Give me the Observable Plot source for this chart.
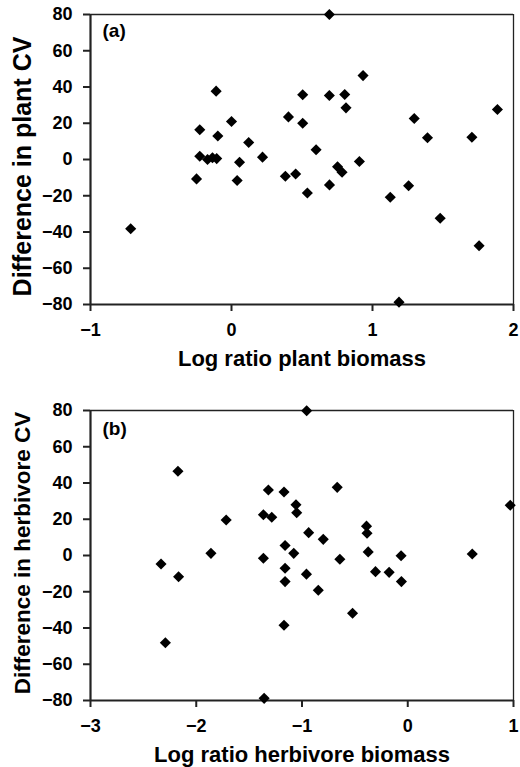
<!DOCTYPE html>
<html><head><meta charset="utf-8">
<script src="https://cdn.jsdelivr.net/npm/d3@7"></script>
<script src="https://cdn.jsdelivr.net/npm/@observablehq/plot@0.6"></script>
<style>
body{margin:0;background:#fff;}
#chart svg{display:block;}
</style></head><body><div id="chart"></div>
<script>
// Panel (a): plant
const plantLogRatio = [-0.715,-0.225,-0.109,0.0,-0.097,0.122,0.22,-0.225,-0.17,-0.135,-0.105,-0.248,0.057,0.04,0.694,0.933,0.505,0.694,0.803,0.812,0.404,0.505,1.296,1.39,1.705,1.886,0.6,0.382,0.455,0.752,0.784,0.907,0.695,0.538,1.126,1.256,1.48,1.756,1.188];
const plantCVDiff   = [-38.2,16.4,37.7,21,13,9.4,1.3,1.8,0,1,0.5,-10.7,-1.5,-11.6,80,46.3,35.7,35.3,35.9,28.5,23.5,20,22.6,12,12.3,27.6,5.4,-9.2,-8,-4,-7,-1.1,-14,-18.5,-20.8,-14.5,-32.4,-47.6,-78.7];
// Panel (b): herbivore
const herbLogRatio = [-2.173,-1.717,-1.861,-2.333,-2.167,-2.292,-0.956,-1.318,-1.17,-0.667,-1.057,-1.05,-1.365,-1.286,-0.937,-0.799,-0.39,-0.385,-1.16,-1.078,-1.365,-0.642,-0.374,-0.063,0.61,0.969,-1.16,-0.958,-0.305,-0.176,-0.06,-1.16,-0.846,-0.522,-1.17,-1.358];
const herbCVDiff   = [46.5,19.6,1.2,-4.7,-11.7,-48.1,79.9,36.1,35,37.6,28,23.6,22.5,21.1,12.6,8.9,16.2,12.3,5.5,1.2,-1.5,-2.1,2,-0.1,0.8,27.7,-7,-10.3,-8.9,-9.3,-14.4,-14.4,-19.2,-31.9,-38.5,-78.8];

const yTicks = [-80,-60,-40,-20,0,20,40,60,80];
const xTicksA = [-1,0,1,2];
const xTicksB = [-3,-2,-1,0,1];
const yDomain = [-80,80];
const xDomainA = [-1,2];
const xDomainB = [-3,1];

const fmt = d => d < 0 ? "\u2212" + Math.abs(d) : String(d);

function panel(o) {
  const data = o.xs.map((x,i)=>({x, y: o.ys[i]}));
  return Plot.plot({
    width: 520, height: o.height, marginTop: o.marginTop, marginBottom: o.marginBottom, marginLeft: 90, marginRight: 7,
    style: {fontFamily: "'Liberation Sans', Arial, Helvetica, sans-serif", fontSize: "18px", fontWeight: "bold", color: "#000", background: "#fff"},
    x: {domain: o.xDomain, ticks: o.xTicks, label: null},
    y: {domain: yDomain, ticks: yTicks, label: null},
    marks: [
      Plot.ruleY([yDomain[1]], {stroke: "#222", strokeWidth: 1.3}),
      Plot.ruleX([o.xDomain[1]], {stroke: "#222", strokeWidth: 1.3}),
      Plot.ruleX([o.xDomain[0]], {stroke: "#222", strokeWidth: 2.2}),
      Plot.ruleY([yDomain[0]], {stroke: "#222", strokeWidth: 2.2}),
      Plot.axisX({ticks: o.xTicks, tickFormat: fmt, tickSize: 7, tickPadding: 12, label: null, strokeWidth: 2, stroke: "#222"}),
      Plot.axisY({ticks: yTicks, tickFormat: fmt, tickSize: 7, tickPadding: 11, label: null, strokeWidth: 2, stroke: "#222"}),
      Plot.dot(data, {x: "x", y: "y", symbol: "diamond2", r: 5, fill: "#000"}),
      Plot.text([o.tag], {text: d => d, frameAnchor: "top-left", dx: 12, dy: o.tagDy, textAnchor: "start", lineAnchor: "top", fontSize: 19}),
      Plot.text([o.xLabel], {text: d => d, frameAnchor: "bottom", dy: 46, textAnchor: "middle", lineAnchor: "top", fontSize: 22}),
      Plot.text([o.yLabel], {text: d => d, frameAnchor: "left", dx: -68, dy: o.yLabelShift, rotate: -90, textAnchor: "middle", lineAnchor: "middle", fontSize: o.yLabelSize})
    ]
  });
}

const chart = document.getElementById("chart");
chart.append(panel({xs: plantLogRatio, ys: plantCVDiff, xDomain: xDomainA, xTicks: xTicksA, tag: "(a)",
  xLabel: "Log ratio plant biomass", yLabel: "Difference in plant CV",
  height: 380, marginTop: 14, marginBottom: 76, yLabelSize: 25, yLabelShift: 7, tagDy: 9}));
chart.append(panel({xs: herbLogRatio, ys: herbCVDiff, xDomain: xDomainB, xTicks: xTicksB, tag: "(b)",
  xLabel: "Log ratio herbivore biomass", yLabel: "Difference in herbivore CV",
  height: 387, marginTop: 30, marginBottom: 67, yLabelSize: 22.5, yLabelShift: -2.5, tagDy: 11}));
</script></body></html>
